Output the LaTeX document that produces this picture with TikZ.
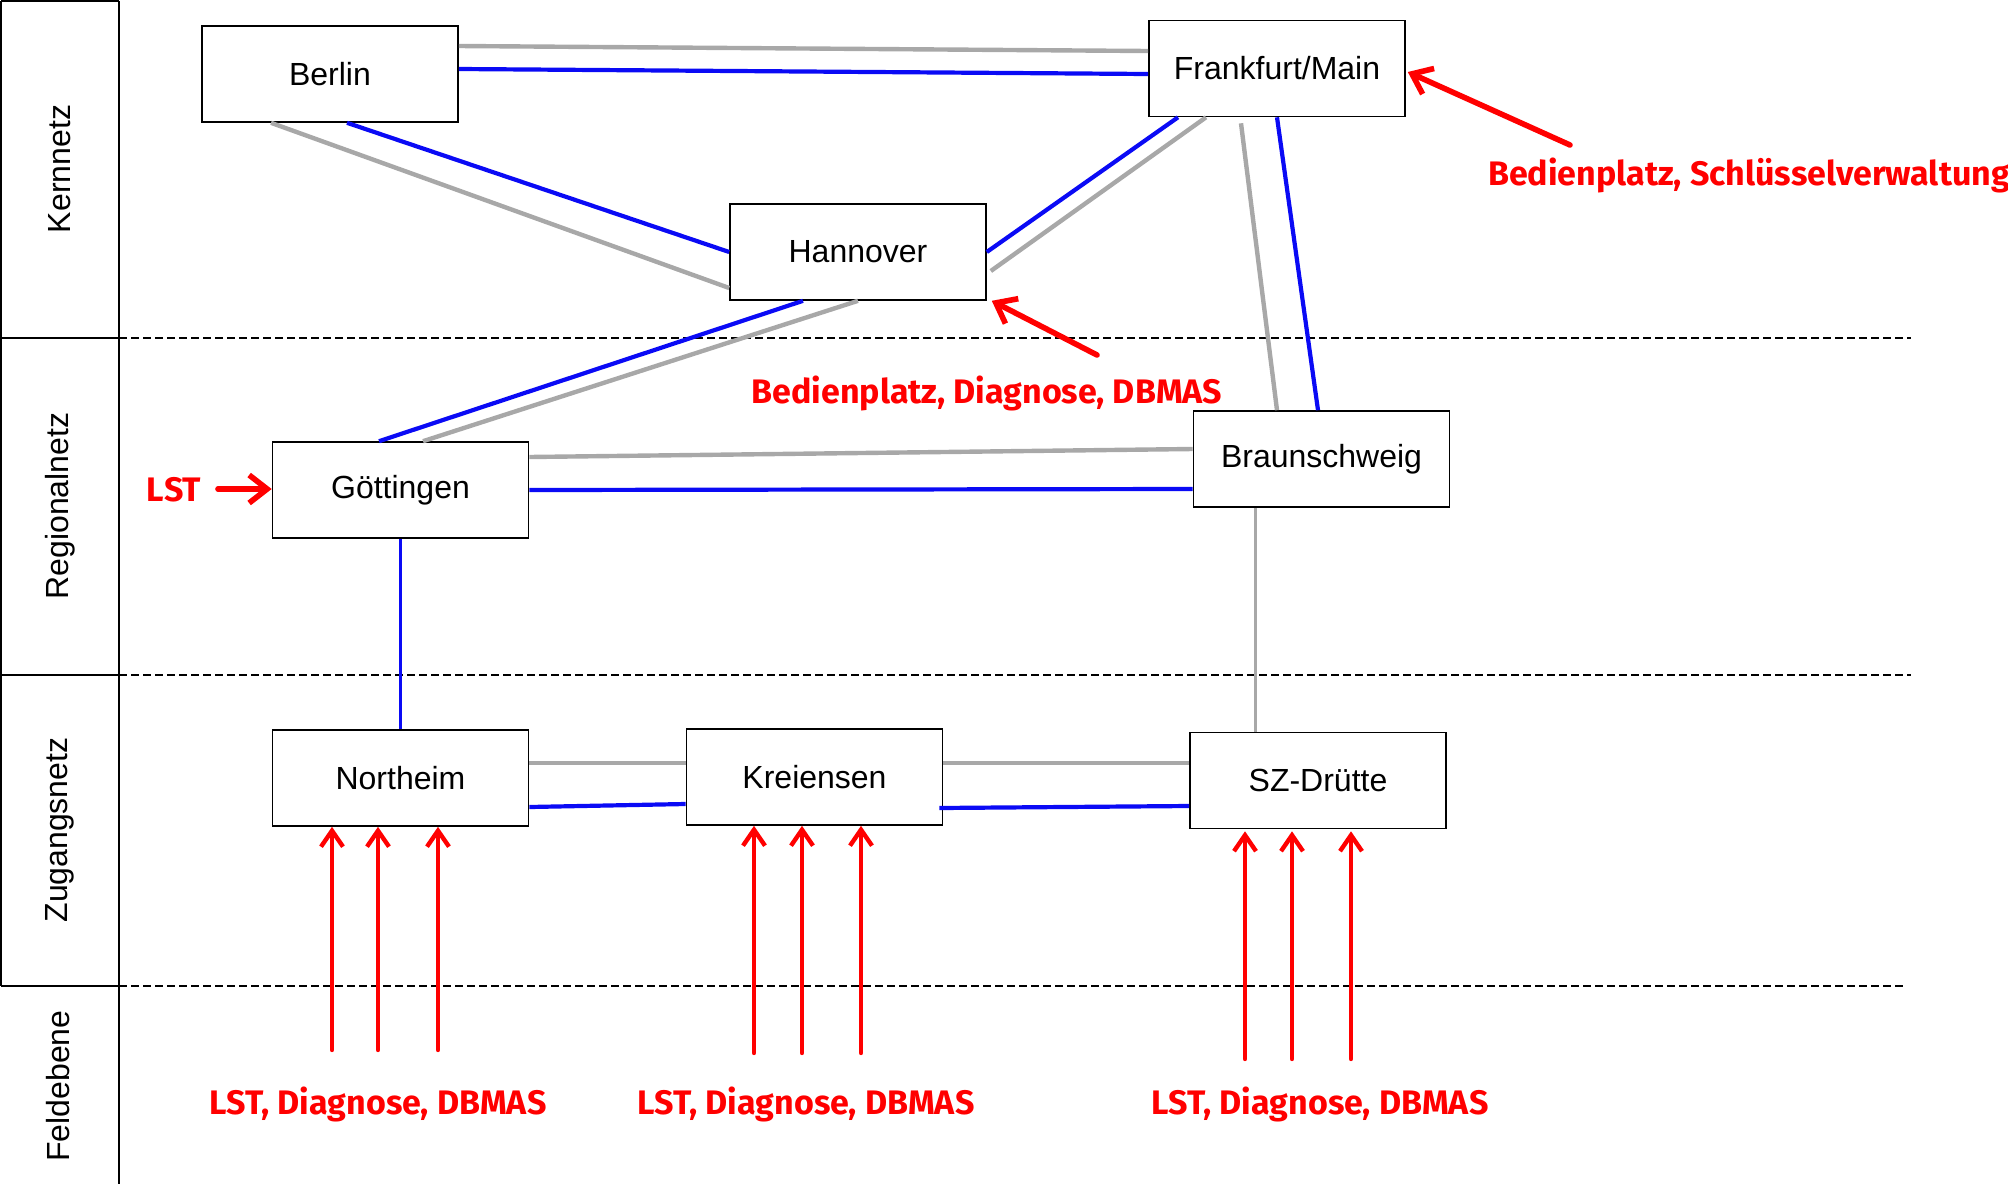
\documentclass[tikz,border=0pt]{standalone}
\usepackage{fontspec}
\setmainfont{Liberation Sans}
\newfontfamily\labelfont{Fira Sans}
\usetikzlibrary{arrows.meta,calc}

\definecolor{linkblue}{RGB}{10,10,245}
\definecolor{linkgray}{RGB}{168,168,168}
\definecolor{infored}{RGB}{255,0,0}

\begin{document}
\begin{tikzpicture}[x=0.5pt,y=-0.5pt,
  station/.style={draw=black, line width=0.8pt, fill=white,
    minimum width=128pt, minimum height=48pt, inner sep=0pt,
    font=\fontsize{16}{19}\selectfont},
  layername/.style={rotate=90, font=\fontsize{16}{19}\selectfont},
  layerline/.style={draw=black, line width=0.75pt, dash pattern=on 3.8pt off 2.2pt},
  bandframe/.style={draw=black, line width=0.9pt},
  blueline/.style={draw=linkblue, line width=2.1pt},
  grayline/.style={draw=linkgray, line width=2.2pt},
  thinblue/.style={draw=linkblue, line width=1.6pt},
  thingray/.style={draw=linkgray, line width=1.6pt},
  infolabel/.style={text=infored, font=\labelfont\bfseries\fontsize{17}{20}\selectfont, inner sep=0pt},
  feed/.style={draw=infored, line width=2.2pt, line cap=round,
    -{Straight Barb[length=8pt,width=11pt,line width=2.2pt]}},
  feedthick/.style={draw=infored, line width=2.8pt, line cap=round,
    -{Straight Barb[length=9pt,width=14pt,line width=2.8pt]}}
]
\useasboundingbox (0,0) rectangle (2008,1184);

% layer column on the left
\draw[bandframe] (1,1) -- (1,986);
\draw[bandframe] (1,1) -- (119,1);
\draw[bandframe] (119,1) -- (119,1184);
\draw[bandframe] (1,338) -- (119,338);
\draw[bandframe] (1,675) -- (119,675);
\draw[bandframe] (1,986) -- (119,986);

\node[layername] (lKern) at (60,169) {Kernnetz};
\node[layername] (lRegio) at (60,506) {Regionalnetz};
\node[layername] (lZugang) at (60,830) {Zugangsnetz};
\node[layername] (lFeld) at (58,1086) {Feldebene};

% layer separators
\draw[layerline] (119,338) -- (1911,338);
\draw[layerline] (119,675) -- (1911,675);
\draw[layerline] (119,986) -- (1906,986);

% stations
\node[station] (berlin)  at (330,74)     {Berlin};
\node[station] (ffm)     at (1277,68.5)  {Frankfurt/Main};
\node[station] (hann)    at (858,252)    {Hannover};
\node[station] (goett)   at (400.5,490)  {Göttingen};
\node[station] (braun)   at (1321.5,459) {Braunschweig};
\node[station] (northeim) at (400.5,778) {Northeim};
\node[station] (kreiens) at (814.5,777)  {Kreiensen};
\node[station] (sz)      at (1318,780.5) {SZ-Drütte};

% core links
\draw[grayline] ([yshift=14pt]berlin.east) -- ([yshift=8.75pt]ffm.west);
\draw[blueline] ([yshift=2.5pt]berlin.east) -- ([yshift=-2.75pt]ffm.west);
\draw[grayline] ([xshift=-29.5pt]berlin.south) -- ([yshift=-18pt]hann.west);
\draw[blueline] ([xshift=8.5pt]berlin.south) -- (hann.west);
\draw[blueline] (hann.east) -- ([xshift=-49.5pt]ffm.south);
\draw[grayline] ([xshift=2pt,yshift=-9.5pt]hann.east) -- ([xshift=-35.5pt]ffm.south);
\draw[grayline] ([xshift=-18pt,yshift=-3pt]ffm.south) -- ([xshift=-22.25pt]braun.north);
\draw[blueline] (ffm.south) -- ([xshift=-1.75pt]braun.north);

% regional links
\draw[blueline] ([xshift=-27.5pt]hann.south) -- ([xshift=-10.75pt]goett.north);
\draw[grayline] (hann.south) -- ([xshift=11.25pt]goett.north);
\draw[grayline] ([yshift=16.5pt]goett.east) -- ([yshift=5pt]braun.west);
\draw[blueline] (goett.east) -- ([yshift=-15pt]braun.west);
\draw[thinblue] (goett.south) -- (northeim.north);
\draw[thingray] ([xshift=-33pt]braun.south) -- ([xshift=-33pt]braun.south |- sz.north);

% access links
\draw[grayline] ([yshift=7.5pt]northeim.east) -- ([yshift=7pt]kreiens.west);
\draw[blueline] ([yshift=-14.5pt]northeim.east) -- ([yshift=-13.5pt]kreiens.west);
\draw[grayline] ([yshift=7pt]kreiens.east) -- ([yshift=8.75pt]sz.west);
\draw[blueline] ([xshift=-2pt,yshift=-15.5pt]kreiens.east) -- ([yshift=-12.75pt]sz.west);

% operator and service inputs
\node[infolabel] (ffmInfo) at (1749,175) {Bedienplatz, Schlüsselverwaltung};
\node[infolabel] (hannInfo) at (987,393) {Bedienplatz, Diagnose, DBMAS};
\node[infolabel] (lst) at (174,490) {LST};
\coordinate (ffmTail) at (1570,145);
\coordinate (hannTail) at (1097,355);
\coordinate (lstTail) at (218,489);
\draw[feedthick] (ffmTail) -- ([xshift=1pt,yshift=-1.75pt]ffm.east);
\draw[feedthick] (hannTail) -- ([xshift=2.5pt]hann.south east);
\draw[feedthick] (lstTail) -- (lstTail -| goett.west);

% field level inputs
\node[infolabel] (fieldA) at (378,1104)  {LST, Diagnose, DBMAS};
\node[infolabel] (fieldB) at (806,1104)  {LST, Diagnose, DBMAS};
\node[infolabel] (fieldC) at (1320,1104) {LST, Diagnose, DBMAS};

\foreach \name/\x in {na/332, nb/378, nc/438}
  \coordinate (\name) at (\x,1050);
\foreach \name/\x in {ka/754, kb/802, kc/861}
  \coordinate (\name) at (\x,1053);
\foreach \name/\x in {sa/1245, sb/1292, sc/1351}
  \coordinate (\name) at (\x,1059);

\foreach \name in {na,nb,nc}
  \draw[feed] (\name) -- (\name |- northeim.south);
\foreach \name in {ka,kb,kc}
  \draw[feed] (\name) -- (\name |- kreiens.south);
\foreach \name in {sa,sb,sc}
  \draw[feed] (\name) -- ([yshift=-1pt]\name |- sz.south);
\end{tikzpicture}
\end{document}
